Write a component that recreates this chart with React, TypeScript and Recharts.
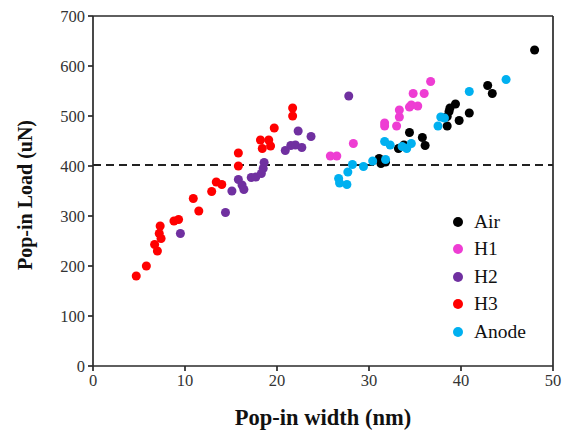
import { ScatterChart, Scatter, XAxis, YAxis, ReferenceLine } from 'recharts';

const xTicks = [0, 10, 20, 30, 40, 50];
const yTicks = [0, 100, 200, 300, 400, 500, 600, 700];
const thresholdLoad = 402;

const airData = [
  { x: 31.1, y: 415 }, { x: 31.3, y: 405 }, { x: 31.8, y: 408 }, { x: 33.2, y: 435 },
  { x: 33.8, y: 442 }, { x: 34.4, y: 467 }, { x: 35.8, y: 457 }, { x: 36.1, y: 441 },
  { x: 38.5, y: 480 }, { x: 38.5, y: 499 }, { x: 38.7, y: 509 }, { x: 38.8, y: 516 },
  { x: 39.4, y: 524 }, { x: 39.8, y: 491 }, { x: 40.9, y: 506 }, { x: 42.9, y: 561 },
  { x: 43.4, y: 545 }, { x: 48.0, y: 632 },
];
const h1Data = [
  { x: 25.8, y: 420 }, { x: 26.5, y: 420 }, { x: 28.3, y: 445 }, { x: 31.7, y: 480 },
  { x: 31.7, y: 486 }, { x: 33.0, y: 480 }, { x: 33.3, y: 498 }, { x: 33.3, y: 512 },
  { x: 34.4, y: 518 }, { x: 34.6, y: 522 }, { x: 35.3, y: 520 }, { x: 34.8, y: 545 },
  { x: 36.0, y: 545 }, { x: 36.7, y: 569 },
];
const h2Data = [
  { x: 9.5, y: 265 }, { x: 14.4, y: 307 }, { x: 15.1, y: 350 }, { x: 15.8, y: 373 },
  { x: 16.2, y: 362 }, { x: 16.4, y: 353 }, { x: 17.2, y: 377 }, { x: 17.7, y: 378 },
  { x: 18.3, y: 385 }, { x: 18.5, y: 395 }, { x: 18.6, y: 407 }, { x: 20.9, y: 431 },
  { x: 21.5, y: 441 }, { x: 22.0, y: 442 }, { x: 22.7, y: 437 }, { x: 22.3, y: 470 },
  { x: 23.7, y: 459 }, { x: 27.8, y: 540 },
];
const h3Data = [
  { x: 4.7, y: 180 }, { x: 5.8, y: 200 }, { x: 6.7, y: 243 }, { x: 7.0, y: 230 },
  { x: 7.2, y: 265 }, { x: 7.3, y: 280 }, { x: 7.4, y: 255 }, { x: 8.8, y: 290 },
  { x: 9.3, y: 293 }, { x: 10.9, y: 335 }, { x: 11.5, y: 310 }, { x: 12.9, y: 349 },
  { x: 13.4, y: 368 }, { x: 14.0, y: 363 }, { x: 15.8, y: 426 }, { x: 15.8, y: 400 },
  { x: 18.2, y: 452 }, { x: 18.4, y: 435 }, { x: 19.1, y: 452 }, { x: 19.3, y: 440 },
  { x: 19.7, y: 476 }, { x: 21.7, y: 516 }, { x: 21.7, y: 500 },
];
const anodeData = [
  { x: 26.7, y: 375 }, { x: 26.8, y: 366 }, { x: 27.6, y: 363 }, { x: 27.7, y: 388 },
  { x: 28.2, y: 403 }, { x: 29.4, y: 399 }, { x: 30.4, y: 410 }, { x: 31.8, y: 413 },
  { x: 31.7, y: 449 }, { x: 32.3, y: 442 }, { x: 33.6, y: 439 }, { x: 34.1, y: 435 },
  { x: 34.6, y: 445 }, { x: 37.5, y: 480 }, { x: 37.8, y: 498 }, { x: 38.2, y: 496 },
  { x: 40.9, y: 549 }, { x: 44.9, y: 573 },
];

const seriesNames = ['Air', 'H1', 'H2', 'H3', 'Anode'];
const seriesColors = ['#000000', '#EE3DD3', '#7030A0', '#FF0000', '#00B0F0'];
const seriesData = [airData, h1Data, h2Data, h3Data, anodeData];

const font = '"Liberation Serif", "Times New Roman", serif';
const axisLine = { stroke: '#2a2a2a', strokeWidth: 1.7 };
const tickStyle = { fill: '#333', fontSize: 16.5, fontFamily: font };

export default function App() {
  return (
    <div style={{ position: 'absolute', left: 0, top: 0, width: 568, height: 436, background: '#fff' }}>
      <ScatterChart width={568} height={436} margin={{ top: 16, right: 15, left: 43, bottom: 30 }}>
        <XAxis
          type="number" dataKey="x" domain={[0, 50]} ticks={xTicks} height={40}
          axisLine={axisLine} tickLine={axisLine} tickSize={5} tickMargin={3} tick={tickStyle}
          label={{ value: 'Pop-in width (nm)', position: 'insideBottom', offset: -19, style: { fontFamily: font, fontSize: 22.5, fontWeight: 'bold', fill: '#111' } }}
        />
        <YAxis
          type="number" dataKey="y" domain={[0, 700]} ticks={yTicks} width={50}
          axisLine={axisLine} tickLine={axisLine} tickSize={5} tickMargin={3} tick={tickStyle}
          label={{ value: 'Pop-in Load (uN)', angle: -90, position: 'insideLeft', offset: -18, dy: 4, style: { textAnchor: 'middle', fontFamily: font, fontSize: 20, fontWeight: 'bold', fill: '#111' } }}
        />
        <ReferenceLine x={50} stroke="#2a2a2a" strokeWidth={1.7} />
        <ReferenceLine y={700} stroke="#2a2a2a" strokeWidth={1.7} />
        <ReferenceLine y={thresholdLoad} stroke="#222" strokeWidth={1.8} strokeDasharray="8 5" />
        {seriesNames.map((name, i) => (
          <Scatter key={name} name={name} data={seriesData[i]} fill={seriesColors[i]} isAnimationActive={false} />
        ))}
      </ScatterChart>
      <div style={{ position: 'absolute', left: 453, top: 208, fontFamily: font, fontSize: 19.5, color: '#111' }}>
        {seriesNames.map((name, i) => (
          <div key={name} style={{ display: 'flex', alignItems: 'center', height: 27.5 }}>
            <span style={{ width: 10, height: 10, borderRadius: 5, background: seriesColors[i], marginRight: 11 }} />
            {name}
          </div>
        ))}
      </div>
    </div>
  );
}
